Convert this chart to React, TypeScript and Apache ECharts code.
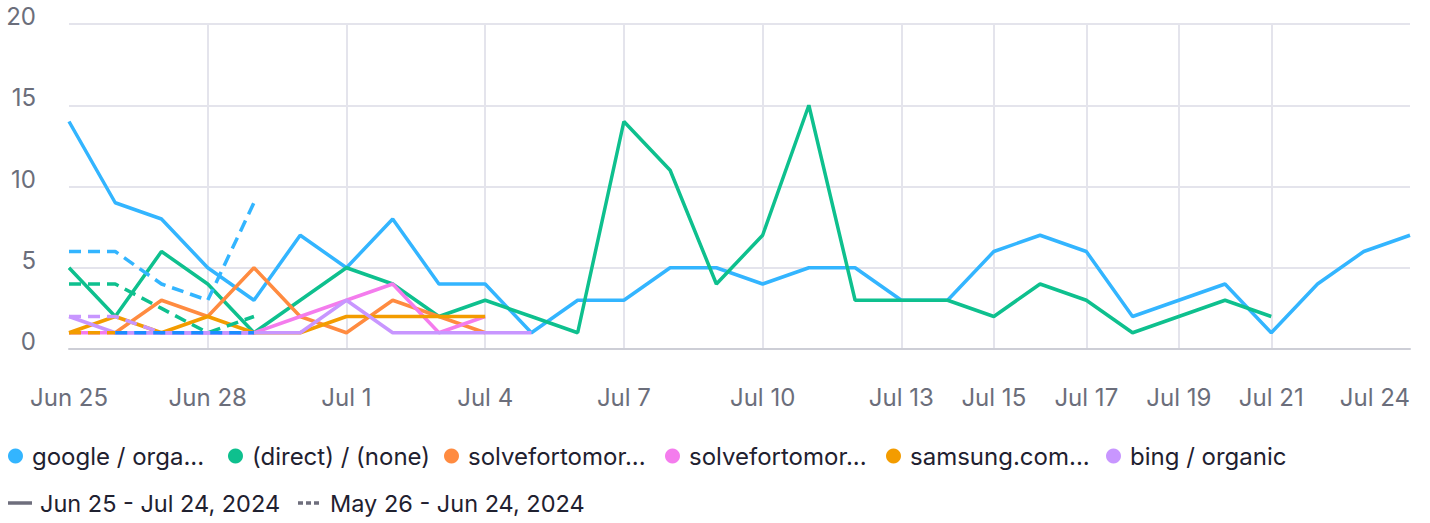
import React, { useEffect, useRef } from 'react';
import * as echarts from 'echarts';

const days = [
  'Jun 25', 'Jun 26', 'Jun 27', 'Jun 28', 'Jun 29', 'Jun 30',
  'Jul 1', 'Jul 2', 'Jul 3', 'Jul 4', 'Jul 5', 'Jul 6', 'Jul 7', 'Jul 8', 'Jul 9', 'Jul 10',
  'Jul 11', 'Jul 12', 'Jul 13', 'Jul 14', 'Jul 15', 'Jul 16', 'Jul 17', 'Jul 18', 'Jul 19',
  'Jul 20', 'Jul 21', 'Jul 22', 'Jul 23', 'Jul 24',
];
const labelDays = [0, 3, 6, 9, 12, 15, 18, 20, 22, 24, 26, 29];
const gridDays = [3, 6, 9, 12, 15, 18, 20, 22, 24, 26];
const yTicks = [0, 5, 10, 15, 20];

const legendNames = [
  'google / orga...',
  '(direct) / (none)',
  'solvefortomor...',
  'solvefortomor... ',
  'samsung.com...',
  'bing / organic',
];
const periodNames = ['Jun 25 - Jul 24, 2024', 'May 26 - Jun 24, 2024'];

const googleCur = [14, 9, 8, 5, 3, 7, 5, 8, 4, 4, 1, 3, 3, 5, 5, 4, 5, 5, 3, 3, 6, 7, 6, 2, 3, 4, 1, 4, 6, 7];
const directCur = [5, 2, 6, 4, 1, 3, 5, 4, 2, 3, 2, 1, 14, 11, 4, 7, 15, 3, 3, 3, 2, 4, 3, 1, 2, 3, 2, null, null, null];
const solve1Cur = [null, 1, 3, 2, 5, 2, 1, 3, 2, 1];
const solve2Cur = [1, 1, 1, 1, 1, 2, 3, 4, 1, 2];
const samsungCur = [1, 2, 1, 2, 1, 1, 2, 2, 2, 2];
const bingCur = [2, 1, 1, 1, 1, 1, 3, 1, 1, 1, 1];

const googlePrev = [6, 6, 4, 3, 9];
const directPrev = [4, 4, 2.5, 1, 2];
const samsungPrev = [1, 1];
const bingPrev = [2, 2, 1, 1, 1];
const otherPrev = [null, 1, 1, 1, 1];

const colors = ['#33b5ff', '#0ec08e', '#ff8b40', '#f47ced', '#f39c00', '#c896ff'];
const otherColor = '#1a8cff';
const legendLefts = [8, 228, 444, 665, 886, 1106];
const FS = 24;

export default function App() {
  const ref = useRef<HTMLDivElement>(null);
  useEffect(() => {
    const chart = echarts.init(ref.current!, null, { renderer: 'svg' });
    const solid = (name: string, data: (number | null)[], color: string) => ({
      name, type: 'line', data, symbol: 'none', color,
      lineStyle: { width: 3.5, color, type: 'solid' },
      emphasis: { disabled: true },
    });
    const dashed = (name: string, data: (number | null)[], color: string) => ({
      name, type: 'line', data, symbol: 'none', color,
      lineStyle: { width: 3.5, color, type: [12, 7] },
      emphasis: { disabled: true },
    });
    chart.setOption({
      animation: false,
      textStyle: { fontFamily: 'Inter' },
      grid: { left: 69, right: 20, top: 24, bottom: 174 },
      legend: legendNames.map((n, i) => ({
        data: [n],
        left: legendLefts[i], top: 444, padding: 0,
        icon: 'circle', itemWidth: 15, itemHeight: 15,
        textStyle: { fontSize: FS, color: '#1f2130', fontFamily: 'Inter', padding: [0, 0, 0, 4] },
      })),
      xAxis: {
        type: 'category', data: days, boundaryGap: false,
        axisLine: { show: true, lineStyle: { color: '#cdced6', width: 2 } },
        axisTick: { show: false },
        axisLabel: {
          interval: (i: number) => labelDays.includes(i),
          color: '#6b6e7b', fontSize: FS, margin: 36, fontFamily: 'Inter',
          alignMaxLabel: 'right',
        },
        splitLine: {
          show: true,
          interval: (i: number) => gridDays.includes(i),
          lineStyle: { color: '#e4e4ec', width: 2 },
        },
      },
      yAxis: {
        type: 'value', min: yTicks[0], max: yTicks[yTicks.length - 1], interval: 5,
        axisLine: { show: false }, axisTick: { show: false },
        axisLabel: {
          color: '#6b6e7b', fontSize: FS, margin: 33, fontFamily: 'Inter',
          verticalAlign: 'bottom', lineHeight: 15,
        },
        splitLine: { lineStyle: { color: '#e4e4ec', width: 2 } },
      },
      series: [
        solid(legendNames[0], googleCur, colors[0]),
        solid(legendNames[1], directCur, colors[1]),
        solid(legendNames[2], solve1Cur, colors[2]),
        solid(legendNames[3], solve2Cur, colors[3]),
        solid(legendNames[4], samsungCur, colors[4]),
        solid(legendNames[5], bingCur, colors[5]),
        dashed(legendNames[0], googlePrev, colors[0]),
        dashed(legendNames[1], directPrev, colors[1]),
        dashed(legendNames[4], samsungPrev, colors[4]),
        dashed(legendNames[5], bingPrev, colors[5]),
        dashed('other', otherPrev, otherColor),
      ],
      graphic: [
        { type: 'line', shape: { x1: 8, y1: 503, x2: 32, y2: 503 }, style: { stroke: '#6e6e7c', lineWidth: 3.5 } },
        { type: 'text', x: 40, y: 503, style: { text: periodNames[0], fontSize: 23.5, fill: '#1f2130', fontFamily: 'Inter', verticalAlign: 'middle' } },
        { type: 'line', shape: { x1: 298, y1: 503, x2: 322, y2: 503 }, style: { stroke: '#6e6e7c', lineWidth: 3.5, lineDash: [5, 3] } },
        { type: 'text', x: 330, y: 503, style: { text: periodNames[1], fontSize: 23.5, fill: '#1f2130', fontFamily: 'Inter', verticalAlign: 'middle' } },
      ],
    });
    return () => chart.dispose();
  }, []);
  return <div ref={ref} style={{ position: 'absolute', left: 0, top: 0, width: 1430, height: 523 }} />;
}
